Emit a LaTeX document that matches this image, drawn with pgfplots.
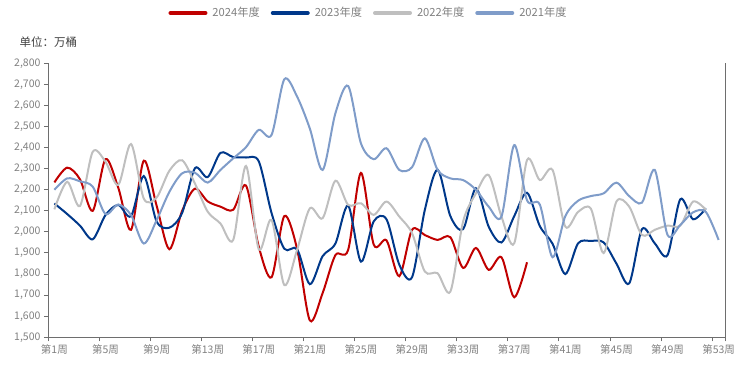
\documentclass[border=0pt]{standalone}
\usepackage{pgfplots}
\pgfplotsset{compat=1.18}
\usepackage{fontspec}
\setmainfont{Noto Sans CJK SC}
\definecolor{c24}{RGB}{192,0,0}
\definecolor{c23}{RGB}{0,56,138}
\definecolor{c22}{RGB}{191,191,191}
\definecolor{c21}{RGB}{127,156,201}
\definecolor{axgray}{RGB}{110,110,110}
\definecolor{lblgray}{RGB}{128,128,128}
\begin{document}
\begin{tikzpicture}[x=1pt,y=1pt]
\path[use as bounding box] (-48,-30.7) rectangle (701,337.3);
\begin{axis}[
  width=677pt, height=274pt, scale only axis,
  xmin=0.5, xmax=53.5, ymin=1500, ymax=2800,
  clip=false,
  axis x line*=bottom, axis y line*=left,
  axis line style={-, draw=axgray, line width=1pt},
  tick align=outside, major tick length=4pt,
  tick style={draw=axgray, line width=1pt},
  xtick={0.5,4.5,...,52.5,53.5},
  xticklabels={第1周,第5周,第9周,第13周,第17周,第21周,第25周,第29周,第33周,第37周,第41周,第45周,第49周,第53周,{}},
  xticklabel style={xshift=6.4pt, font=\fontsize{10.5}{12}\selectfont, text=lblgray},
  ytick={1500,1600,...,2800},
  yticklabels={{1,500},{1,600},{1,700},{1,800},{1,900},{2,000},{2,100},{2,200},{2,300},{2,400},{2,500},{2,600},{2,700},{2,800}},
  yticklabel style={font=\fontsize{10.5}{12}\selectfont, text=lblgray},
  legend columns=4,
  legend image code/.code={\draw[#1, line width=4pt, line cap=round] (2pt,0pt) -- (37pt,0pt); \path (0pt,0pt) (41pt,0pt);},
  legend style={at={(axis description cs:0.4727,1.1836)}, anchor=center, draw=none, fill=none,
    font=\fontsize{11.2}{13}\selectfont, text=lblgray,
    /tikz/every even column/.append style={column sep=8pt}},
]
\addplot[c24, line width=2pt, smooth, tension=0.5] coordinates {
(1,2235)(2,2305)(3,2250)(4,2100)(5,2345)(6,2210)(7,2010)(8,2338)(9,2125)(10,1918)(11,2100)(12,2205)(13,2145)(14,2120)(15,2105)(16,2220)(17,1930)(18,1785)(19,2075)(20,1920)(21,1580)(22,1710)(23,1890)(24,1915)(25,2280)(26,1940)(27,1960)(28,1790)(29,2010)(30,1985)(31,1962)(32,1975)(33,1829)(34,1924)(35,1820)(36,1880)(37,1690)(38,1856)};
\addlegendentry{2024年度}
\addplot[c23, line width=2pt, smooth, tension=0.5] coordinates {
(1,2135)(2,2085)(3,2030)(4,1965)(5,2080)(6,2128)(7,2075)(8,2265)(9,2050)(10,2020)(11,2090)(12,2302)(13,2260)(14,2375)(15,2355)(16,2353)(17,2335)(18,2090)(19,1920)(20,1918)(21,1752)(22,1885)(23,1945)(24,2125)(25,1859)(26,2050)(27,2060)(28,1845)(29,1785)(30,2104)(31,2295)(32,2075)(33,2013)(34,2207)(35,2025)(36,1950)(37,2075)(38,2186)(39,2028)(40,1944)(41,1800)(42,1946)(43,1957)(44,1950)(45,1850)(46,1756)(47,2013)(48,1946)(49,1890)(50,2155)(51,2060)(52,2112)};
\addlegendentry{2023年度}
\addplot[c22, line width=2pt, smooth, tension=0.5] coordinates {
(1,2107)(2,2238)(3,2123)(4,2380)(5,2333)(6,2223)(7,2417)(8,2158)(9,2163)(10,2290)(11,2340)(12,2230)(13,2096)(14,2040)(15,1962)(16,2313)(17,1918)(18,2057)(19,1748)(20,1915)(21,2112)(22,2065)(23,2243)(24,2128)(25,2136)(26,2081)(27,2144)(28,2073)(29,1994)(30,1812)(31,1804)(32,1717)(33,2050)(34,2183)(35,2270)(36,2073)(37,1946)(38,2341)(39,2246)(40,2294)(41,2025)(42,2095)(43,2110)(44,1900)(45,2144)(46,2120)(47,1985)(48,2010)(49,2030)(50,2030)(51,2144)(52,2105)};
\addlegendentry{2022年度}
\addplot[c21, line width=2pt, smooth, tension=0.5] coordinates {
(1,2200)(2,2254)(3,2240)(4,2215)(5,2085)(6,2130)(7,2080)(8,1945)(9,2055)(10,2190)(11,2278)(12,2281)(13,2234)(14,2294)(15,2349)(16,2402)(17,2484)(18,2460)(19,2724)(20,2642)(21,2490)(22,2294)(23,2563)(24,2692)(25,2420)(26,2345)(27,2397)(28,2294)(29,2307)(30,2444)(31,2294)(32,2254)(33,2246)(34,2200)(35,2120)(36,2073)(37,2412)(38,2150)(39,2130)(40,1880)(41,2075)(42,2148)(43,2170)(44,2183)(45,2234)(46,2170)(47,2139)(48,2294)(49,1986)(50,2033)(51,2093)(52,2095)(53,1962)};
\addlegendentry{2021年度}
\draw[axgray, line width=1pt] (rel axis cs:1,0) -- (rel axis cs:1,1);
\node[anchor=west, font=\fontsize{11.5}{13}\selectfont, text=black!75] at (rel axis cs:-0.0473,1.0777) {单位：万桶};
\end{axis}
\end{tikzpicture}
\end{document}
